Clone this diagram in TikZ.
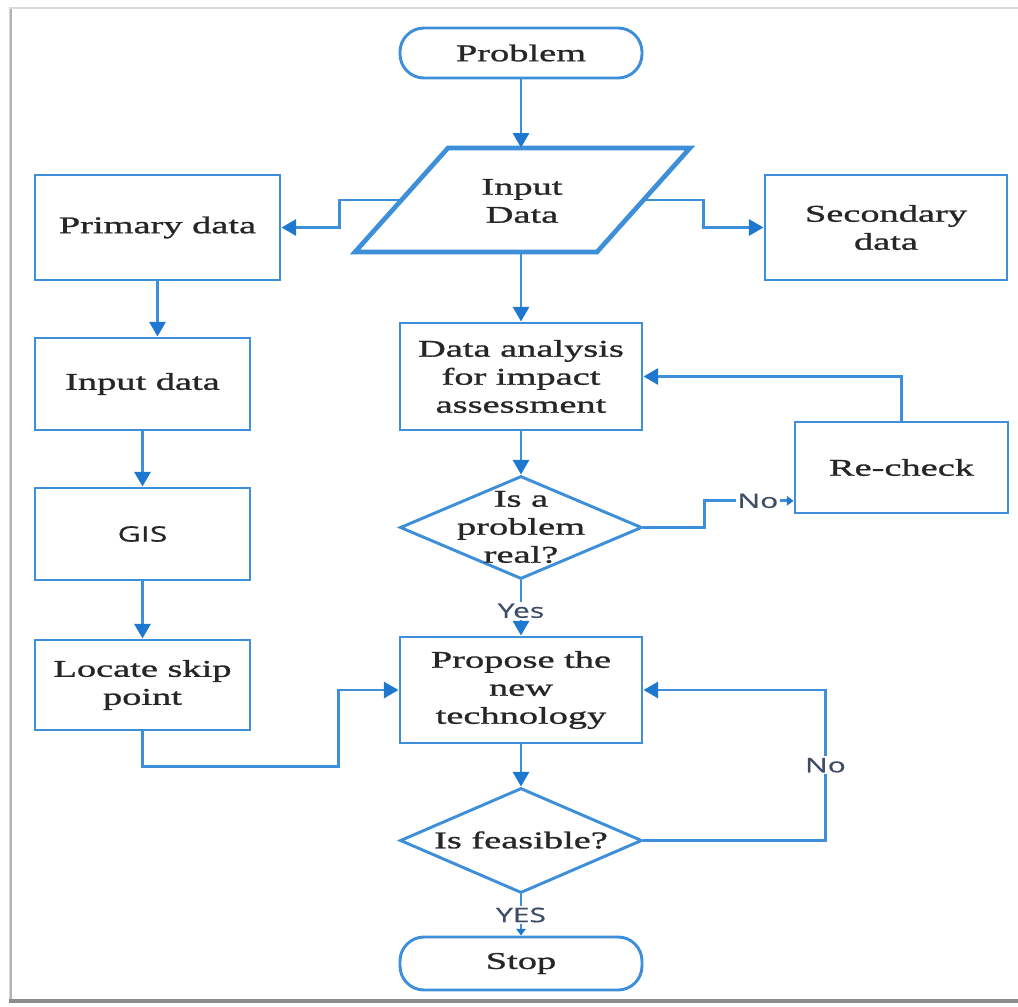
\documentclass[tikz,border=0pt]{standalone}
\usepackage{fontspec}
\setmainfont{Liberation Serif}[FakeStretch=1.6,FakeBold=1.1]
\newfontfamily\lblfont{Open Sans}[FakeStretch=1.5,FakeBold=0.6]
\usetikzlibrary{shapes.geometric,arrows.meta}
\definecolor{lb}{HTML}{3C8FD8}
\definecolor{ab}{HTML}{1E78CF}
\definecolor{tx}{HTML}{262626}
\definecolor{lt}{HTML}{3E4C66}
\begin{document}
\begin{tikzpicture}[x=0.75pt,y=-0.75pt,
  txt/.style={align=center, font=\fontsize{18}{21}\selectfont, text=tx},
  box/.style={draw=lb, line width=2.2pt, inner sep=0pt, txt},
  term/.style={box, rounded corners=18pt},
  dia/.style={draw=lb, line width=2.2pt, diamond, inner sep=0pt},
  conn/.style={draw=lb, line width=2.2pt, -{Triangle[length=11pt,width=12pt,color=ab]}},
  smallconn/.style={draw=lb, line width=2.2pt, -{Triangle[length=5pt,width=7pt,color=ab]}},
  lbl/.style={fill=white, inner sep=1.5pt, font=\lblfont\fontsize{15}{17}\selectfont, text=lt}]
\useasboundingbox (0,0) rectangle (1018,1007);
\fill[white] (0,0) rectangle (1018,1007);
% frame
\draw[black!15, line width=1pt] (10,1000) -- (10,8) -- (1018,8);
\draw[black!30, line width=1.5pt] (10.5,1000) -- (10.5,9);
\draw[black!45, line width=3pt] (9,1001) -- (1018,1001);

% centre column
\node[term, minimum width=181.5pt, minimum height=37.5pt] (prob) at (521,53) {Problem};
\node[minimum width=181.5pt, minimum height=78pt, inner sep=0pt] (inp) at (521,200) {};
\draw[lb, line width=3.5pt, line join=miter] (355,252) -- (448,148) -- (690,148) -- (597,252) -- cycle;
\node[txt] (inptxt) at (522,201) {Input\\Data};
\node[box, minimum width=181.5pt, minimum height=80.25pt] (ana) at (521,376.5) {Data analysis\\for impact\\assessment};
\node[dia, minimum width=181.5pt, minimum height=77.25pt] (d1) at (521,527.5) {};
\node[txt] (d1txt) at (521,527) {Is a\\problem\\real?};
\node[box, minimum width=181.5pt, minimum height=79.5pt] (prop) at (521,690) {Propose the\\new\\technology};
\node[dia, minimum width=181.5pt, minimum height=78.75pt] (d2) at (521,840.5) {};
\node[txt] (d2txt) at (521,840) {Is feasible?};
\node[term, minimum width=181.5pt, minimum height=39.75pt] (stop) at (521,963.5) {Stop};

% left column
\node[box, minimum width=183.75pt, minimum height=78.75pt] (prim) at (157.5,227.5) {Primary data};
\node[box, minimum width=161.25pt, minimum height=69pt] (ind) at (142.5,384) {Input data};
\node[box, minimum width=161.25pt, minimum height=69pt, font=\lblfont\fontsize{16}{18}\selectfont] (gis) at (142.5,534) {GIS};
\node[box, minimum width=161.25pt, minimum height=67.5pt] (loc) at (142.5,685) {Locate skip\\point};

% right column
\node[box, minimum width=181.5pt, minimum height=78.75pt] (sec) at (886,227.5) {Secondary\\data};
\node[box, minimum width=159.75pt, minimum height=68.25pt] (rec) at (901.5,467.5) {Re-check};

% connectors
\draw[conn] (prob.south) -- (inp.north);
\draw[conn] (inp.west) -- ++(-60,0) |- (prim.east);
\draw[conn] (inp.east) -- ++(61,0) |- (sec.west);
\draw[conn] (inp.south) -- (ana.north);
\draw[conn] (ana.south) -- (d1.north);
\draw[smallconn] (d1.east) -- ++(61,0) |- node[lbl, pos=0.8] {No} ([yshift=-25pt]rec.west);
\draw[conn] (rec.north) |- (ana.east);
\draw[conn] (d1.south) -- node[lbl, pos=0.55] {Yes} (prop.north);
\draw[conn] (prim.south) -- (prim.south |- ind.north);
\draw[conn] (ind.south) -- (gis.north);
\draw[conn] (gis.south) -- (loc.north);
\draw[conn] (loc.south) -- ++(0,35) -| ([xshift=-45pt]prop.west) -- (prop.west);
\draw[conn] (prop.south) -- (d2.north);
\draw[conn] (d2.east) -- ++(182,0) |- node[lbl, pos=0.25] {No} (prop.east);
\draw[smallconn] (d2.south) -- node[lbl] {YES} (stop.north);
\end{tikzpicture}
\end{document}
